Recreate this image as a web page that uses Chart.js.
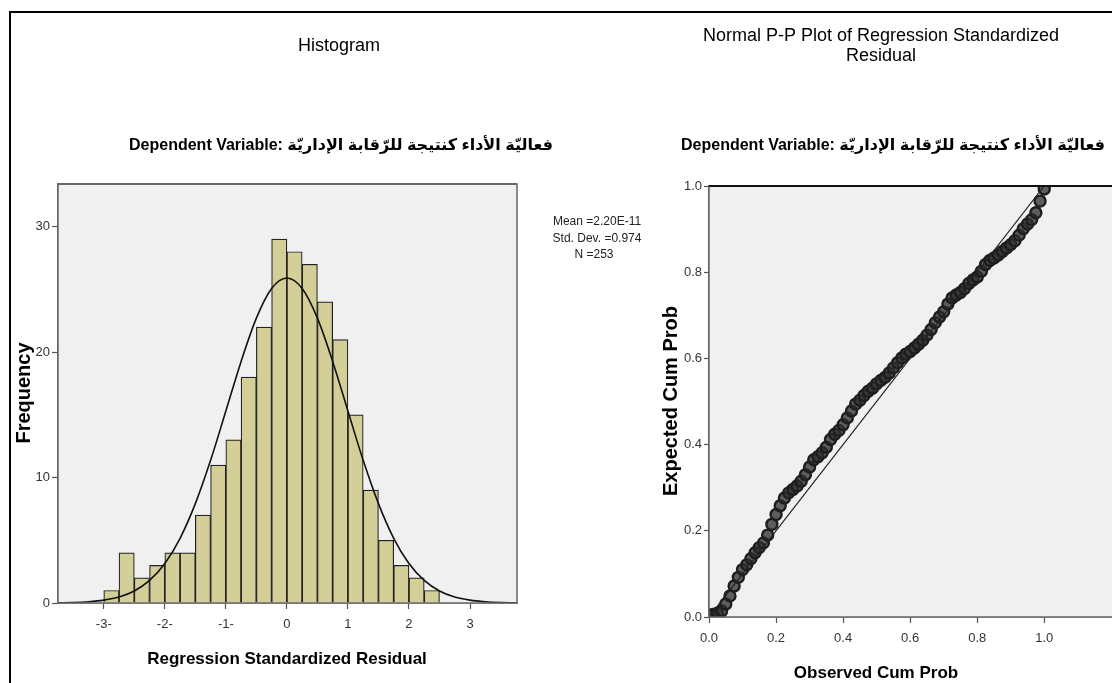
<!DOCTYPE html>
<html>
<head>
<meta charset="utf-8">
<title>Histogram and Normal P-P Plot</title>
<script src="https://cdn.jsdelivr.net/npm/chart.js@4.4.1/dist/chart.umd.min.js"></script>
<style>
    html, body { margin: 0; padding: 0; background: #ffffff; overflow: hidden; width: 1112px; height: 683px; }
    #frame { position: absolute; left: 9px; top: 11px; width: 1200px; height: 800px; border-top: 2px solid #000; border-left: 2px solid #000; }
    #histogramChart { position: absolute; left: 0; top: 0; }
    #ppPlotChart { position: absolute; left: 660px; top: 0; }
</style>
</head>
<body>
<div id="frame"></div>
<canvas id="histogramChart" width="660" height="683"></canvas>
<canvas id="ppPlotChart" width="480" height="683"></canvas>
<script>
// Histogram data (bin width 0.25, N = 253)
var histBinCenters = [ -2.875, -2.625, -2.375, -2.125, -1.875, -1.625, -1.375, -1.125, -0.875, -0.625, -0.375, -0.125,
    0.125, 0.375, 0.625, 0.875, 1.125, 1.375, 1.625, 1.875, 2.125, 2.375 ];
var histFrequencies = [ 1, 4, 2, 3, 4, 4, 7, 11, 13, 18, 22, 29, 28, 27, 24, 21, 15, 9, 5, 3, 2, 1 ];

// Normal curve
var curveX = [ -3.75, -3.5, -3.25, -3, -2.75, -2.5, -2.25, -2, -1.75, -1.5, -1.25, -1, -0.75, -0.5, -0.25, 0,
    0.25, 0.5, 0.75, 1, 1.25, 1.5, 1.75, 2, 2.25, 2.5, 2.75, 3, 3.25, 3.5, 3.75 ];
var curveY = [ 0.02, 0.04, 0.1, 0.23, 0.48, 0.96, 1.8, 3.15, 5.16, 7.92, 11.37, 15.3, 19.26, 22.71, 25.07, 25.91,
    25.07, 22.71, 19.26, 15.3, 11.37, 7.92, 5.16, 3.15, 1.8, 0.96, 0.48, 0.23, 0.1, 0.04, 0.02 ];

var histYTicks = [ 0, 10, 20, 30 ];
var histXTicks = [ -3, -2, -1, 0, 1, 2, 3 ];
var histXTickLabels = [ '-3-', '-2-', '-1-', '0', '1', '2', '3' ];
var histStats = [ 'Mean =2.20E-11', 'Std. Dev. =0.974', 'N =253' ];

// P-P plot data
var ppObserved = [ 0, 0.0125, 0.025, 0.0375, 0.05, 0.0625, 0.075, 0.0875, 0.1, 0.1125, 0.125, 0.1375, 0.15, 0.1625,
    0.175, 0.1875, 0.2, 0.2125, 0.225, 0.2375, 0.25, 0.2625, 0.275, 0.2875, 0.3, 0.3125, 0.325, 0.3375, 0.35, 0.3625,
    0.375, 0.3875, 0.4, 0.4125, 0.425, 0.4375, 0.45, 0.4625, 0.475, 0.4875, 0.5, 0.5125, 0.525, 0.5375, 0.55, 0.5625,
    0.575, 0.5875, 0.6, 0.6125, 0.625, 0.6375, 0.65, 0.6625, 0.675, 0.6875, 0.7, 0.7125, 0.725, 0.7375, 0.75, 0.7625,
    0.775, 0.7875, 0.8, 0.8125, 0.825, 0.8375, 0.85, 0.8625, 0.875, 0.8875, 0.9, 0.9125, 0.925, 0.9375, 0.95, 0.9625,
    0.975, 0.9875, 1 ];
var ppExpected = [ 0.004, 0.006, 0.009, 0.014, 0.03, 0.049, 0.072, 0.092, 0.11, 0.121, 0.135, 0.149, 0.161, 0.172,
    0.19, 0.215, 0.238, 0.258, 0.276, 0.288, 0.296, 0.304, 0.315, 0.33, 0.348, 0.365, 0.372, 0.381, 0.394, 0.412,
    0.424, 0.433, 0.446, 0.462, 0.478, 0.494, 0.503, 0.514, 0.524, 0.531, 0.541, 0.549, 0.556, 0.566, 0.578, 0.59,
    0.601, 0.61, 0.616, 0.624, 0.633, 0.642, 0.654, 0.667, 0.683, 0.696, 0.708, 0.726, 0.74, 0.747, 0.753, 0.762,
    0.774, 0.782, 0.789, 0.802, 0.818, 0.827, 0.833, 0.84, 0.848, 0.856, 0.864, 0.873, 0.886, 0.901, 0.912, 0.922,
    0.938, 0.965, 0.993 ];
var diagonalLine = [ 0, 1 ];
var ppTicks = [ 0, 0.2, 0.4, 0.6, 0.8, 1.0 ];
var ppTickLabels = [ '0.0', '0.2', '0.4', '0.6', '0.8', '1.0' ];

var dependentTitle = 'Dependent Variable: فعاليّة الأداء كنتيجة للرّقابة الإداريّة';

var SANS = "'Liberation Sans', Arial, 'DejaVu Sans', sans-serif";
var NARROW = "'Liberation Sans Narrow', 'Liberation Sans', Arial, sans-serif";

// Plot background and frame
function framePlugin ( topColor )
{
    return {
        id: 'plotFrame',
        beforeDatasetsDraw: function ( chart )
        {
            var a = chart.chartArea;
            var ctx = chart.ctx;
            ctx.save();
            ctx.fillStyle = '#f0f0f0';
            ctx.fillRect( a.left, a.top, a.right - a.left, a.bottom - a.top );
            ctx.restore();
        },
        afterDraw: function ( chart )
        {
            var a = chart.chartArea;
            var ctx = chart.ctx;
            ctx.save();
            ctx.strokeStyle = '#666666';
            ctx.lineWidth = 1.5;
            ctx.strokeRect( a.left, a.top, a.right - a.left, a.bottom - a.top );
            ctx.strokeStyle = topColor;
            ctx.lineWidth = 2;
            ctx.beginPath();
            ctx.moveTo( a.left, a.top );
            ctx.lineTo( a.right, a.top );
            ctx.stroke();
            ctx.restore();
        }
    };
}

// Free text (titles, axis titles, statistics)
function textPlugin ( items )
{
    return {
        id: 'staticText',
        afterDraw: function ( chart )
        {
            var ctx = chart.ctx;
            items.forEach( function ( item )
            {
                ctx.save();
                ctx.font = item.font;
                ctx.fillStyle = item.color || '#000000';
                ctx.textAlign = 'center';
                ctx.textBaseline = 'middle';
                ctx.translate( item.x, item.y );
                if ( item.rotate )
                {
                    ctx.rotate( -Math.PI / 2 );
                }
                ctx.fillText( item.text, 0, 0 );
                ctx.restore();
            } );
        }
    };
}

function axisStyle ()
{
    return {
        offset: false,
        grid: { offset: false, drawOnChartArea: false, drawTicks: true, tickLength: 6, tickColor: '#555555', tickWidth: 1.2 },
        border: { display: true, color: '#666666', width: 1.5 },
        ticks: { color: '#333333', font: { family: NARROW, size: 13 } }
    };
}

// Histogram chart
var histX = axisStyle();
histX.type = 'linear';
histX.min = -3.75;
histX.max = 3.77;
histX.afterBuildTicks = function ( scale ) { scale.ticks = histXTicks.map( function ( v ) { return { value: v }; } ); };
histX.afterFit = function ( scale ) { scale.height = 30; };
histX.ticks.padding = 8;
histX.ticks.maxRotation = 0;
histX.ticks.callback = function ( value )
{
    var i = histXTicks.indexOf( value );
    return i >= 0 ? histXTickLabels[ i ] : '';
};

var histY = axisStyle();
histY.min = 0;
histY.max = 33.4;
histY.afterBuildTicks = function ( scale ) { scale.ticks = histYTicks.map( function ( v ) { return { value: v }; } ); };
histY.afterFit = function ( scale ) { scale.width = 50; };
histY.ticks.padding = 2;

new Chart( document.getElementById( 'histogramChart' ), {
    type: 'bar',
    data: {
        datasets: [
            {
                type: 'line',
                data: curveX.map( function ( x, i ) { return { x: x, y: curveY[ i ] }; } ),
                borderColor: '#111111',
                borderWidth: 1.6,
                pointRadius: 0,
                cubicInterpolationMode: 'monotone',
                fill: false,
                order: 0
            },
            {
                type: 'bar',
                data: histBinCenters.map( function ( x, i ) { return { x: x, y: histFrequencies[ i ] }; } ),
                backgroundColor: '#d4cf98',
                borderColor: '#222222',
                borderWidth: 1.2,
                barPercentage: 1,
                categoryPercentage: 1,
                grouped: false,
                order: 1
            }
        ]
    },
    options: {
        responsive: false,
        animation: false,
        layout: { padding: { left: 8, right: 143, top: 184, bottom: 50 } },
        plugins: { legend: { display: false }, tooltip: { enabled: false } },
        scales: { x: histX, y: histY }
    },
    plugins: [
        framePlugin( '#666666' ),
        textPlugin( [
            { text: 'Histogram', x: 339, y: 46, font: '18px ' + SANS },
            { text: dependentTitle, x: 341, y: 146, font: 'bold 16px ' + SANS },
            { text: histStats[ 0 ], x: 597, y: 222, font: '12px ' + NARROW, color: '#222222' },
            { text: histStats[ 1 ], x: 597, y: 239, font: '12px ' + NARROW, color: '#222222' },
            { text: histStats[ 2 ], x: 594, y: 255, font: '12px ' + NARROW, color: '#222222' },
            { text: 'Frequency', x: 24, y: 393, font: 'bold 20px ' + SANS, rotate: true },
            { text: 'Regression Standardized Residual', x: 287, y: 659, font: 'bold 17px ' + SANS }
        ] )
    ]
} );

// Normal P-P plot chart
var ppX = axisStyle();
ppX.type = 'linear';
ppX.min = 0;
ppX.max = 1.22;
ppX.afterBuildTicks = function ( scale ) { scale.ticks = ppTicks.map( function ( v ) { return { value: v }; } ); };
ppX.afterFit = function ( scale ) { scale.height = 30; };
ppX.ticks.padding = 8;
ppX.ticks.maxRotation = 0;
ppX.ticks.callback = function ( value )
{
    var i = ppTicks.indexOf( value );
    return i >= 0 ? ppTickLabels[ i ] : '';
};

var ppY = axisStyle();
ppY.type = 'linear';
ppY.min = 0;
ppY.max = 1;
ppY.afterBuildTicks = function ( scale ) { scale.ticks = ppTicks.map( function ( v ) { return { value: v }; } ); };
ppY.afterFit = function ( scale ) { scale.width = 40; };
ppY.grid.tickLength = 5;
ppY.ticks.padding = 2;
ppY.ticks.callback = ppX.ticks.callback;

new Chart( document.getElementById( 'ppPlotChart' ), {
    type: 'scatter',
    data: {
        datasets: [
            {
                type: 'line',
                data: diagonalLine.map( function ( v ) { return { x: v, y: v }; } ),
                borderColor: '#222222',
                borderWidth: 1.2,
                pointRadius: 0,
                fill: false,
                order: 0
            },
            {
                data: ppObserved.map( function ( x, i ) { return { x: x, y: ppExpected[ i ] }; } ),
                pointRadius: 5.5,
                pointBorderWidth: 2.4,
                borderColor: '#1e1e1e',
                backgroundColor: 'rgba(45, 45, 45, 0.75)',
                order: 1
            }
        ]
    },
    options: {
        responsive: false,
        animation: false,
        layout: { padding: { left: 9, right: 22, top: 186, bottom: 36 } },
        plugins: { legend: { display: false }, tooltip: { enabled: false } },
        scales: { x: ppX, y: ppY }
    },
    plugins: [
        framePlugin( '#111111' ),
        textPlugin( [
            { text: 'Normal P-P Plot of Regression Standardized', x: 221, y: 36, font: '18px ' + SANS },
            { text: 'Residual', x: 221, y: 56, font: '18px ' + SANS },
            { text: dependentTitle, x: 233, y: 146, font: 'bold 16px ' + SANS },
            { text: 'Expected Cum Prob', x: 11, y: 401, font: 'bold 20px ' + SANS, rotate: true },
            { text: 'Observed Cum Prob', x: 216, y: 673, font: 'bold 17px ' + SANS }
        ] )
    ]
} );
</script>
</body>
</html>
